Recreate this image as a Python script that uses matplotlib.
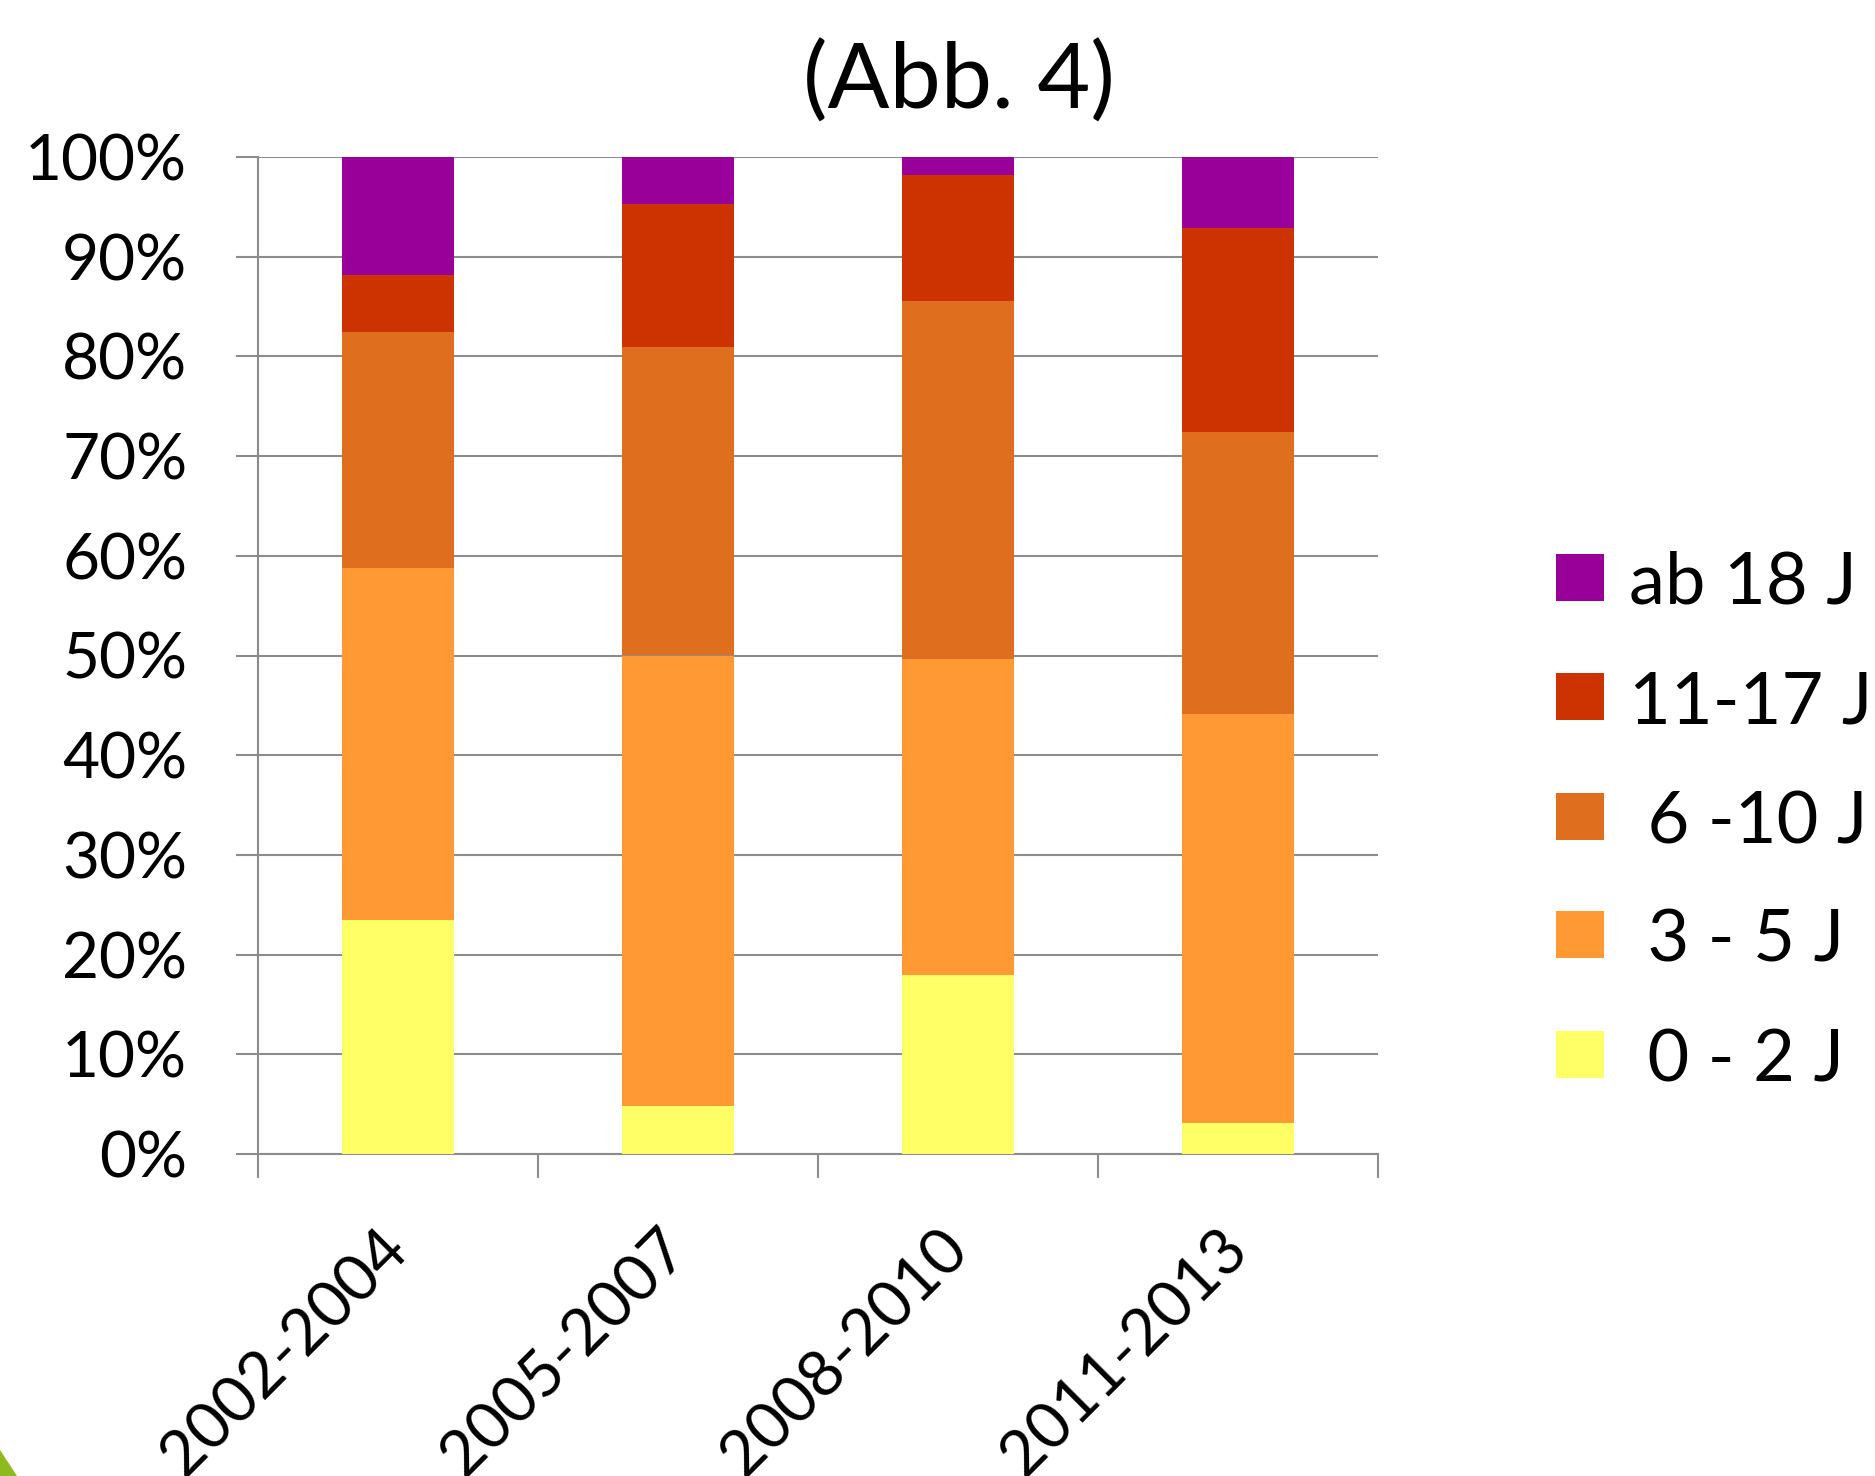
import matplotlib
matplotlib.use("Agg")
import matplotlib.pyplot as plt
from matplotlib.patches import Rectangle, Polygon
import numpy as np

plt.rcParams['font.family'] = ['Lato', 'DejaVu Sans']

categories = ["2002-2004", "2005-2007", "2008-2010", "2011-2013"]
series_labels = [" 0 - 2 J", " 3 - 5 J", " 6 -10 J", "11-17 J", "ab 18 J"]
s_0_2 = [23.5, 4.8, 18.0, 3.1]
s_3_5 = [35.3, 45.2, 31.6, 41.0]
s_6_10 = [23.6, 30.9, 36.0, 28.3]
s_11_17 = [5.8, 14.4, 12.6, 20.5]
s_ab18 = [11.8, 4.7, 1.8, 7.1]
series = [s_0_2, s_3_5, s_6_10, s_11_17, s_ab18]
colors = ["#FFFF66", "#FF9933", "#DF6F1F", "#CC3300", "#990099"]
y_ticks = [0, 10, 20, 30, 40, 50, 60, 70, 80, 90, 100]

W, H = 1875, 1476
fig = plt.figure(figsize=(W / 100, H / 100), dpi=100)
ax = fig.add_axes([258 / W, 1 - 1154 / H, (1378 - 258) / W, (1154 - 157) / H])

x = np.arange(len(categories))
bottom = np.zeros(len(categories))
for vals, col in zip(series, colors):
    v = np.array(vals, dtype=float)
    ax.bar(x, v, width=0.4, bottom=bottom, color=col, edgecolor='none', zorder=3)
    bottom += v

grid_col = "#8C8C8C"
ax.set_xlim(-0.5, len(categories) - 0.5)
ax.set_ylim(0, 100)
ax.set_yticks(y_ticks)
ax.set_yticklabels([f"{t}%" for t in y_ticks])
ax.yaxis.grid(True, color=grid_col, linewidth=1.5, zorder=0)
ax.set_axisbelow(True)

ax.set_xticks(np.arange(len(categories) + 1) - 0.5)
ax.set_xticklabels([])
ax.set_xticks(x, minor=True)
ax.set_xticklabels(categories, minor=True, rotation=45, ha='right', va='center',
                   rotation_mode='anchor', fontsize=46)
ax.tick_params(axis='x', which='major', length=17, width=1.5, color=grid_col)
ax.tick_params(axis='x', which='minor', length=0, pad=62)
ax.tick_params(axis='y', which='major', length=16, width=1.5, color=grid_col,
               labelsize=46, pad=35)

for s in ['top', 'right']:
    ax.spines[s].set_visible(False)
for s in ['left', 'bottom']:
    ax.spines[s].set_color(grid_col)
    ax.spines[s].set_linewidth(1.5)

fig.text(959 / W, 1 - 109 / H, "(Abb. 4)", ha='center', va='baseline', fontsize=66)

# legend (top entry = last series)
row_tops = [554, 673, 793, 911, 1031]
for i, (lab, col) in enumerate(zip(series_labels[::-1], colors[::-1])):
    top = row_tops[i]
    fig.patches.append(Rectangle((1556 / W, 1 - (top + 47) / H), 48 / W, 47 / H,
                                 transform=fig.transFigure, facecolor=col,
                                 edgecolor='none'))
    fig.text(1629 / W, 1 - (top + 23.5) / H, lab, ha='left', va='center_baseline',
             fontsize=52)

# decorative green corner
fig.patches.append(Polygon([(0, 1 - 1450 / H), (17 / W, 0), (0, 0)], closed=True,
                           transform=fig.transFigure, facecolor="#8DBA1E",
                           edgecolor='none'))

fig.savefig("out.png", dpi=100)
